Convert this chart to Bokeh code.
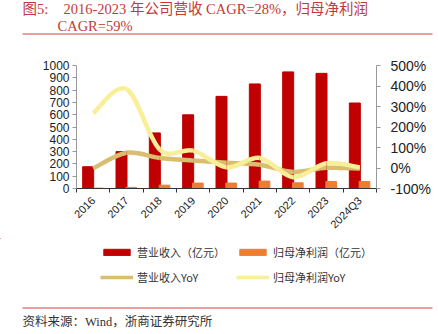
from bokeh.plotting import figure
from bokeh.layouts import column
from bokeh.models import (Range1d, LinearAxis, FixedTicker, Legend, LegendItem, Label)
from bokeh.embed import file_html
from bokeh.resources import INLINE

categories = ["2016", "2017", "2018", "2019", "2020", "2021", "2022", "2023", "2024Q3"]
revenue = [177, 300, 452, 599, 749, 850, 948, 936, 695]          # 营业收入（亿元）
profit = [3, 9, 27, 44, 44, 60, 46, 57, 57]                      # 归母净利润（亿元）
revenue_yoy = [-2, 74, 49, 36, 26, 16, -19, 1, -2]               # 营业收入YoY (%)
profit_yoy = [267, 385, 90, 85, 3, 49, -45, 23, 3]               # 归母净利润YoY (%)
left_ticks = [0, 100, 200, 300, 400, 500, 600, 700, 800, 900, 1000]
right_ticks = [-100, 0, 100, 200, 300, 400, 500]

fig_no = "图5:"
title1 = "2016-2023 年公司营收 CAGR=28%，归母净利润"
title2 = "CAGR=59%"
source_text = "资料来源：Wind，浙商证券研究所"
legend_labels = ["营业收入（亿元）", "归母净利润（亿元）", "营业收入YoY", "归母净利润YoY"]

SANS = "Liberation Sans, Arial, Noto Sans CJK SC"
SERIF = "Liberation Serif, Times New Roman, Noto Sans CJK SC"
C_REV, C_PRO, C_RYOY, C_PYOY = "#C00000", "#ED7D31", "#D8BE6E", "#F9EF98"
W = 438
H_HEAD, H_MAIN, H_FOOT = 40, 198, 96

def blank(h):
    f = figure(width=W, height=h, output_backend="svg", toolbar_location=None,
               x_range=Range1d(0, W), y_range=Range1d(h, 0), min_border=0,
               x_axis_type=None, y_axis_type=None, frame_align=False)
    f.grid.visible = False
    f.outline_line_color = None
    return f

# ---------------- header ----------------
head = blank(H_HEAD)
for txt, x, y in [(fig_no, 22, 8.5), (title1, 63, 8.5), (title2, 57, 25)]:
    head.add_layout(Label(x=x, y=y, text=txt, text_font=SERIF, text_font_size="14.5px",
                          text_color="#C23A3A", text_baseline="middle"))
head.segment(x0=[22], y0=[33.5], x1=[432], y1=[33.5], line_color="#C94545", line_width=1.2)

# ---------------- main chart ----------------
n = len(categories)
xc = [i + 0.5 for i in range(n)]

p = figure(width=W, height=H_MAIN, output_backend="svg", toolbar_location=None,
           x_range=Range1d(0, n), y_range=Range1d(0, 1000),
           min_border_left=76, min_border_right=62, min_border_top=25, min_border_bottom=50,
           x_axis_type=None, y_axis_type=None, frame_align=False)
p.grid.visible = False
p.outline_line_color = None
p.extra_y_ranges = {"pct": Range1d(-100, 500)}

p.vbar(x=[x - 0.15 for x in xc], top=revenue, width=0.33, color=C_REV)
p.vbar(x=[x + 0.14 for x in xc], top=profit, width=0.32, color=C_PRO)

def smooth(xs, ys):
    P = list(zip(xs, ys))
    P = [P[0]] + P + [P[-1]]
    out = dict(x0=[], y0=[], x1=[], y1=[], cx0=[], cy0=[], cx1=[], cy1=[])
    for i in range(1, len(P) - 2):
        p0, p1, p2, p3 = P[i - 1], P[i], P[i + 1], P[i + 2]
        out["x0"].append(p1[0]); out["y0"].append(p1[1])
        out["x1"].append(p2[0]); out["y1"].append(p2[1])
        out["cx0"].append(p1[0] + (p2[0] - p0[0]) / 6); out["cy0"].append(p1[1] + (p2[1] - p0[1]) / 6)
        out["cx1"].append(p2[0] - (p3[0] - p1[0]) / 6); out["cy1"].append(p2[1] - (p3[1] - p1[1]) / 6)
    return out

p.bezier(**smooth(xc, revenue_yoy), y_range_name="pct", line_color=C_RYOY, line_width=4.5)
p.bezier(**smooth(xc, profit_yoy), y_range_name="pct", line_color=C_PYOY, line_width=4.5)

xaxis = LinearAxis(ticker=FixedTicker(ticks=xc, minor_ticks=list(range(n + 1))),
                   major_label_overrides={x: c for x, c in zip(xc, categories)})
xaxis.major_tick_line_color = None
xaxis.minor_tick_out = 4
xaxis.minor_tick_in = 0
xaxis.minor_tick_line_color = "#333333"
xaxis.axis_line_color = "#333333"
xaxis.major_label_orientation = 0.785398
xaxis.major_label_text_font = SANS
xaxis.major_label_text_font_size = "11px"
xaxis.major_label_text_color = "#222222"
xaxis.major_label_standoff = 4
p.add_layout(xaxis, "below")

yl = LinearAxis(ticker=FixedTicker(ticks=left_ticks, minor_ticks=[]))
yl.axis_line_color = "#999999"
yl.major_tick_line_color = "#999999"
yl.major_tick_out = 4
yl.major_tick_in = 0
yl.major_label_text_font = SANS
yl.major_label_text_font_size = "12px"
yl.major_label_text_color = "#222222"
yl.major_label_standoff = 3
p.add_layout(yl, "left")

yr = LinearAxis(y_range_name="pct", ticker=FixedTicker(ticks=right_ticks, minor_ticks=[]),
                major_label_overrides={t: f"{t}%" for t in right_ticks})
yr.axis_line_color = "#999999"
yr.major_tick_line_color = "#999999"
yr.major_tick_out = 4
yr.major_tick_in = 0
yr.major_label_text_font = SANS
yr.major_label_text_font_size = "14px"
yr.major_label_text_color = "#222222"
yr.major_label_standoff = 10
p.add_layout(yr, "right")

# ---------------- footer (legend + source) ----------------
foot = blank(H_FOOT)
# legend proxies: placed far outside the visible range so only their legend glyphs show
far = -100000
k_rev = foot.vbar(x=[far], top=[far], bottom=[far - 1], width=1, color=C_REV)
k_pro = foot.vbar(x=[far], top=[far], bottom=[far - 1], width=1, color=C_PRO)
k_ryoy = foot.line(x=[far, far - 1], y=[far, far], line_color=C_RYOY, line_width=3.5)
k_pyoy = foot.line(x=[far, far - 1], y=[far, far], line_color=C_PYOY, line_width=3.5)
# Bokeh fills legend columns top-to-bottom, so order items column by column
order = [(legend_labels[0], k_rev), (legend_labels[2], k_ryoy),
         (legend_labels[1], k_pro), (legend_labels[3], k_pyoy)]
legend = Legend(items=[LegendItem(label=lab, renderers=[r]) for lab, r in order],
                ncols=2, location=(100, 49), glyph_width=33, glyph_height=8, label_standoff=4,
                spacing=9, padding=0, margin=0, border_line_color=None, background_fill_alpha=0,
                label_text_font="Noto Sans CJK SC", label_text_font_size="11px",
                label_text_color="#333333", label_height=14, label_width=90)
foot.add_layout(legend, "center")
foot.segment(x0=[22], y0=[69.5], x1=[432], y1=[69.5], line_color="#E08080", line_width=1.5)
foot.add_layout(Label(x=22, y=83, text=source_text, text_font=SERIF, text_font_size="12.5px",
                      text_color="#333333", text_baseline="middle"))

layout = column(head, p, foot, spacing=0)
open("out.html", "w").write(file_html(layout, INLINE))
